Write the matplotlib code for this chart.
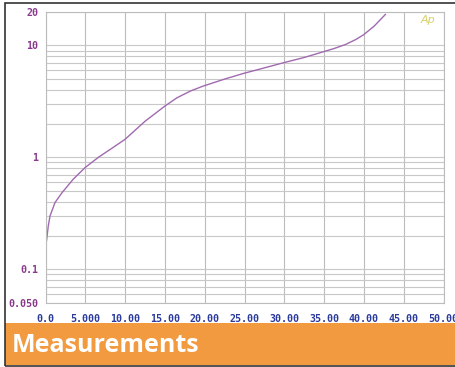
import numpy as np
import matplotlib
matplotlib.use("Agg")
import matplotlib.pyplot as plt
from matplotlib.ticker import FixedLocator, NullFormatter
from matplotlib.patches import Rectangle

# curve (x, y on log scale)
x_vals = [0.05, 0.15, 0.35, 0.57, 1.19, 2.04, 3.5, 4.97, 6.64, 8.3, 10.0,
          12.5, 15.0, 16.5, 18.2, 19.8, 22.5, 24.8, 27.5, 29.9, 32.5, 34.5,
          36.3, 37.7, 39.0, 40.0, 41.3, 42.7]
y_vals = [0.167, 0.185, 0.244, 0.30, 0.394, 0.48, 0.64, 0.81, 1.0, 1.2, 1.45,
          2.1, 2.87, 3.4, 3.91, 4.33, 5.0, 5.6, 6.3, 7.0, 7.8, 8.6,
          9.4, 10.2, 11.3, 12.5, 14.9, 18.9]

x_ticks = [0, 5, 10, 15, 20, 25, 30, 35, 40, 45, 50]
x_labels = ["0.0", "5.000", "10.00", "15.00", "20.00", "25.00", "30.00",
            "35.00", "40.00", "45.00", "50.00"]
y_ticks = [0.05, 0.1, 1, 10, 20]
y_labels = ["0.050", "0.1", "1", "10", "20"]

W, H = 455, 367
fig = plt.figure(figsize=(W / 100, H / 100), dpi=100)

# orange banner and outer frame
fig.patches.append(Rectangle((5 / W, 1 - 365 / H), 1, 42 / H, transform=fig.transFigure,
                             facecolor="#f19a40", edgecolor="none", zorder=0))
fig.patches.append(Rectangle((5 / W, 1 - 366 / H), 1, 363 / H, transform=fig.transFigure,
                             facecolor="none", edgecolor="#333333", linewidth=1.2, zorder=1))
fig.text(12 / W, 1 - 352 / H, "Measurements", color="white", fontsize=18,
         fontweight="bold", family="Open Sans", va="baseline", ha="left")

ax = fig.add_axes([45.5 / W, 1 - 303 / H, 398 / W, 291.3 / H])
ax.semilogy(x_vals, y_vals, color="#a06ab0", linewidth=1.0)
ax.set_xlim(0, 50)
ax.set_ylim(0.05, 20)

ax.xaxis.set_major_locator(FixedLocator(x_ticks))
ax.set_xticklabels(x_labels)
ax.yaxis.set_major_locator(FixedLocator(y_ticks))
ax.set_yticklabels(y_labels)
minor = [m * 10.0 ** k for k in (-2, -1, 0, 1) for m in range(2, 10)]
ax.yaxis.set_minor_locator(FixedLocator([v for v in minor if 0.05 <= v <= 20]))
ax.yaxis.set_minor_formatter(NullFormatter())

ax.grid(True, which="both", axis="y", color="#c8c8c8", linewidth=0.8)
ax.grid(True, which="major", axis="x", color="#bcbcbc", linewidth=0.8)
ax.tick_params(which="both", length=0)
ax.tick_params(axis="x", pad=8, labelsize=7.2, labelcolor="#2b3c9c")
ax.tick_params(axis="y", pad=5, labelsize=7.2, labelcolor="#8a3a8c")
for lab in ax.get_xticklabels() + ax.get_yticklabels():
    lab.set_family("DejaVu Sans Mono")
    lab.set_fontweight("bold")
for sp in ax.spines.values():
    sp.set_color("#bcbcbc")
    sp.set_linewidth(0.8)

ax.text(0.961, 0.971, "Ap", transform=ax.transAxes, color="#d8d068",
        fontsize=8, style="italic", ha="center", va="center")

fig.savefig("out.png", dpi=100)
